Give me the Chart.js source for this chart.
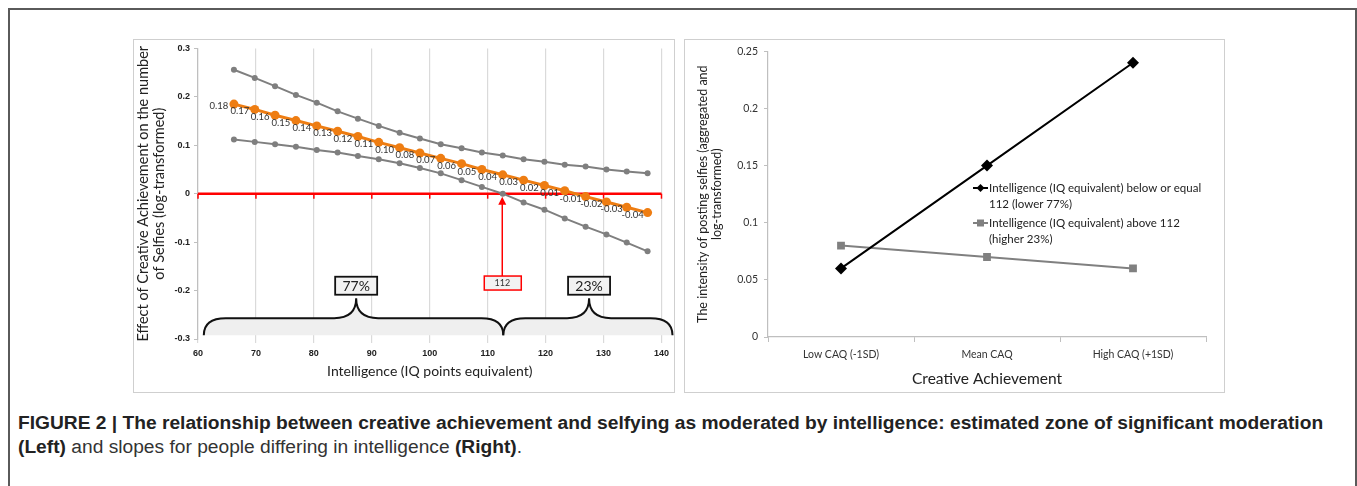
<!DOCTYPE html>
<html>
<head>
<meta charset="utf-8">
<script src="https://cdn.jsdelivr.net/npm/chart.js@4.4.1/dist/chart.umd.min.js"></script>
<style>
  html, body { margin: 0; padding: 0; background: #fff; }
  body { width: 1357px; height: 486px; position: relative; overflow: hidden; }
  #frame { position: absolute; left: 8px; top: 8px; width: 1345px; height: 500px; border: 2px solid #5a5a5a; border-bottom: none; }
  .panel { position: absolute; top: 39px; border: 1.5px solid #cfcfcf; box-sizing: border-box; }
  #leftPanel { left: 133px; width: 542px; height: 354px; }
  #rightPanel { left: 684px; width: 541px; height: 354px; }
  canvas { position: absolute; }
  #left { left: 133px; top: 39px; }
  #right { left: 684px; top: 39px; }
  .caption { position: absolute; left: 18px; font-family: "Liberation Sans", Arial, sans-serif; font-size: 19.2px; line-height: 22px; color: #222; white-space: nowrap; }
  #cap1 { top: 412px; font-weight: bold; }
  #cap2 { top: 436px; color: #333; }
  #cap2 b { color: #222; }
</style>
</head>
<body>
<div id="frame"></div>
<div class="panel" id="leftPanel"></div>
<div class="panel" id="rightPanel"></div>
<canvas id="left" width="541" height="353"></canvas>
<canvas id="right" width="540" height="353"></canvas>
<div class="caption" id="cap1">FIGURE 2 | The relationship between creative achievement and selfying as moderated by intelligence: estimated zone of significant moderation</div>
<div class="caption" id="cap2"><b>(Left)</b> and slopes for people differing in intelligence <b>(Right)</b>.</div>
<script>
// left panel: effect of creative achievement by IQ
const iq = [66.2, 69.8, 73.3, 76.9, 80.5, 84.1, 87.6, 91.2, 94.8, 98.3, 101.9, 105.5, 109.0, 112.6, 116.2, 119.8, 123.3, 126.9, 130.5, 134.0, 137.6];
const upperBand = [0.256, 0.239, 0.222, 0.204, 0.188, 0.170, 0.155, 0.140, 0.126, 0.114, 0.102, 0.094, 0.085, 0.079, 0.071, 0.066, 0.060, 0.056, 0.050, 0.046, 0.042];
const effect = [0.185, 0.174, 0.162, 0.151, 0.140, 0.129, 0.118, 0.106, 0.095, 0.084, 0.073, 0.062, 0.050, 0.039, 0.028, 0.017, 0.006, -0.006, -0.017, -0.028, -0.039];
const lowerBand = [0.112, 0.107, 0.102, 0.097, 0.090, 0.085, 0.078, 0.071, 0.063, 0.053, 0.042, 0.028, 0.014, 0.000, -0.018, -0.033, -0.051, -0.068, -0.084, -0.101, -0.119];
const effectLabels = ['0.18', '0.17', '0.16', '0.15', '0.14', '0.13', '0.12', '0.11', '0.10', '0.08', '0.07', '0.06', '0.05', '0.04', '0.03', '0.02', '0.01', '-0.01', '-0.02', '-0.03', '-0.04'];
const crossIQ = 112;
const zoneLabels = ['77%', '23%'];
const zoneBounds = [61, 112.7, 141.9];
const zonePeaks = [87.3, 127.5];

// right panel: slopes
const caqLevels = ['Low CAQ (-1SD)', 'Mean CAQ', 'High CAQ (+1SD)'];
const lowIQSlope = [0.06, 0.15, 0.24];
const highIQSlope = [0.08, 0.07, 0.06];

const fmt = v => String(Math.round(v * 100) / 100);
const sans = "Lato, 'Open Sans', sans-serif";

const zonePlugin = {
  id: 'zones',
  beforeDatasetsDraw(chart) {
    const { ctx, scales: { x, y } } = chart;
    // braces with grey fill
    const yb = y.getPixelForValue(-0.292), yh = y.getPixelForValue(-0.257), yt = y.getPixelForValue(-0.216);
    const r = 22;
    for (let i = 0; i < 2; i++) {
      const x0 = x.getPixelForValue(zoneBounds[i]), x1 = x.getPixelForValue(zoneBounds[i + 1]);
      const xc = x.getPixelForValue(zonePeaks[i]);
      const brace = () => {
        ctx.beginPath();
        ctx.moveTo(x0, yb);
        ctx.quadraticCurveTo(x0, yh, x0 + r, yh);
        ctx.lineTo(xc - r, yh);
        ctx.quadraticCurveTo(xc, yh, xc, yt);
        ctx.quadraticCurveTo(xc, yh, xc + r, yh);
        ctx.lineTo(x1 - r, yh);
        ctx.quadraticCurveTo(x1, yh, x1, yb);
      };
      ctx.save();
      brace();
      ctx.closePath();
      ctx.fillStyle = '#efefef';
      ctx.fill();
      brace();
      ctx.strokeStyle = '#111';
      ctx.lineWidth = 2;
      ctx.stroke();
      ctx.restore();
    }
    // red zero line with ticks
    const y0 = y.getPixelForValue(0);
    ctx.save();
    ctx.strokeStyle = '#ff0000';
    ctx.lineWidth = 2.5;
    ctx.beginPath();
    ctx.moveTo(x.left, y0);
    ctx.lineTo(x.right, y0);
    ctx.stroke();
    ctx.lineWidth = 1.5;
    x.ticks.forEach(t => {
      const px = x.getPixelForValue(t.value);
      ctx.beginPath();
      ctx.moveTo(px, y0);
      ctx.lineTo(px, y0 + 5);
      ctx.stroke();
    });
    ctx.restore();
  },
  afterDatasetsDraw(chart) {
    const { ctx, scales: { x, y } } = chart;
    const pts = chart.getDatasetMeta(2).data;
    ctx.save();
    ctx.font = "9.5px " + sans;
    ctx.fillStyle = '#333';
    ctx.textAlign = 'center';
    ctx.textBaseline = 'middle';
    pts.forEach((p, i) => ctx.fillText(effectLabels[i], p.x - 15, p.y + 2));

    // percentage boxes
    ctx.font = "14px " + sans;
    for (let i = 0; i < 2; i++) {
      const cx = x.getPixelForValue(zonePeaks[i]);
      const cy = y.getPixelForValue(-0.19);
      ctx.fillStyle = '#f2f2f2';
      ctx.fillRect(cx - 21, cy - 9, 42, 18);
      ctx.strokeStyle = '#111';
      ctx.lineWidth = 1.8;
      ctx.strokeRect(cx - 21, cy - 9, 42, 18);
      ctx.fillStyle = '#222';
      ctx.fillText(zoneLabels[i], cx, cy + 1);
    }

    // 112 marker with arrow
    const ax = x.getPixelForValue(crossIQ) + 3;
    const bt = y.getPixelForValue(-0.170);
    ctx.fillStyle = '#f2f2f2';
    ctx.fillRect(ax - 18, bt, 37, 14);
    ctx.strokeStyle = '#ff0000';
    ctx.lineWidth = 1.5;
    ctx.strokeRect(ax - 18, bt, 37, 14);
    ctx.fillStyle = '#333';
    ctx.font = "9px " + sans;
    ctx.fillText(String(crossIQ), ax, bt + 7.5);
    const tip = y.getPixelForValue(0) + 3;
    ctx.beginPath();
    ctx.moveTo(ax, bt);
    ctx.lineTo(ax, tip + 4);
    ctx.stroke();
    ctx.beginPath();
    ctx.moveTo(ax, tip);
    ctx.lineTo(ax - 4, tip + 8);
    ctx.lineTo(ax + 4, tip + 8);
    ctx.closePath();
    ctx.fillStyle = '#ff0000';
    ctx.fill();
    ctx.restore();
  }
};

const line = (data, color, width, radius) => ({
  data: iq.map((v, i) => ({ x: v, y: data[i] })),
  borderColor: color, backgroundColor: color,
  borderWidth: width, pointRadius: radius, pointBorderWidth: 0, tension: 0
});

new Chart('left', {
  type: 'line',
  plugins: [zonePlugin],
  data: {
    datasets: [
      line(upperBand, '#7f7f7f', 2, 3),
      line(lowerBand, '#7f7f7f', 2, 3),
      line(effect, '#ee7d12', 3, 4.5)
    ]
  },
  options: {
    responsive: false, animation: false, devicePixelRatio: 1,
    layout: { autoPadding: false, padding: { top: 8, right: 12, left: 0, bottom: 0 } },
    plugins: { legend: { display: false }, tooltip: { enabled: false } },
    scales: {
      x: {
        type: 'linear', min: 60, max: 140,
        afterFit: s => { s.height = 53; },
        ticks: { stepSize: 10, color: '#222', font: { family: "'Liberation Sans', Arial", size: 9, weight: 'bold' }, padding: 5 },
        grid: { color: '#dadada', lineWidth: 1.2, tickLength: 4 },
        border: { display: false },
        title: { display: true, text: 'Intelligence (IQ points equivalent)', color: '#222', font: { family: sans, size: 14 }, padding: { top: 2, bottom: 12 } }
      },
      y: {
        min: -0.3, max: 0.3,
        afterFit: s => { s.width = 65; },
        ticks: { stepSize: 0.1, color: '#222', callback: fmt, font: { family: "'Liberation Sans', Arial", size: 9, weight: 'bold' }, padding: 4 },
        grid: { drawOnChartArea: false, tickLength: 4, color: '#bfbfbf' },
        border: { color: '#bfbfbf', width: 1.2 },
        title: { display: true, text: ['Effect of Creative Achievement on the number', 'of Selfies (log-transformed)'], color: '#222', font: { family: sans, size: 14.5, lineHeight: 1.05 }, padding: { top: 3 } }
      }
    }
  }
});

const legendPlugin = {
  id: 'sideLegend',
  afterDraw(chart) {
    const { ctx } = chart;
    const entries = [
      { color: '#000', shape: 'diamond', lines: ['Intelligence (IQ equivalent) below or equal', '112 (lower 77%)'], y: 149 },
      { color: '#808080', shape: 'square', lines: ['Intelligence (IQ equivalent) above 112', '(higher 23%)'], y: 184 }
    ];
    ctx.save();
    ctx.font = "11.5px " + sans;
    ctx.textBaseline = 'middle';
    entries.forEach(e => {
      ctx.strokeStyle = e.color;
      ctx.fillStyle = e.color;
      ctx.lineWidth = 2;
      ctx.beginPath();
      ctx.moveTo(289, e.y);
      ctx.lineTo(304, e.y);
      ctx.stroke();
      ctx.beginPath();
      if (e.shape === 'diamond') {
        ctx.moveTo(296.5, e.y - 4); ctx.lineTo(300.5, e.y); ctx.lineTo(296.5, e.y + 4); ctx.lineTo(292.5, e.y);
      } else {
        ctx.rect(293, e.y - 3.5, 7, 7);
      }
      ctx.fill();
      ctx.fillStyle = '#222';
      e.lines.forEach((t, k) => ctx.fillText(t, 305, e.y + k * 16.5));
    });
    ctx.restore();
  }
};

new Chart('right', {
  type: 'line',
  plugins: [legendPlugin],
  data: {
    labels: caqLevels,
    datasets: [
      { data: lowIQSlope, borderColor: '#000', backgroundColor: '#000', borderWidth: 2, pointStyle: 'rectRot', pointRadius: 6, pointBorderWidth: 0, tension: 0 },
      { data: highIQSlope, borderColor: '#808080', backgroundColor: '#808080', borderWidth: 2, pointStyle: 'rect', pointRadius: 5.5, pointBorderWidth: 0, tension: 0 }
    ]
  },
  options: {
    responsive: false, animation: false, devicePixelRatio: 1,
    layout: { autoPadding: false, padding: { top: 7, right: 18, left: 0, bottom: 0 } },
    plugins: { legend: { display: false }, tooltip: { enabled: false } },
    scales: {
      x: {
        offset: true,
        afterFit: s => { s.height = 55; },
        ticks: { color: '#333', font: { family: sans, size: 10.5 }, padding: 6, maxRotation: 0 },
        grid: { drawOnChartArea: false, tickLength: 5, color: '#bfbfbf', offset: true },
        border: { color: '#bfbfbf', width: 1.2 },
        title: { display: true, text: 'Creative Achievement', color: '#222', font: { family: sans, size: 15.5 }, padding: { top: 6 } }
      },
      y: {
        min: 0, max: 0.25,
        afterFit: s => { s.width = 84; },
        ticks: { stepSize: 0.05, color: '#333', callback: fmt, font: { family: sans, size: 10.5 }, padding: 6 },
        grid: { drawOnChartArea: false, tickLength: 4, color: '#bfbfbf' },
        border: { color: '#bfbfbf', width: 1.2 },
        title: { display: true, text: ['The intensity of posting selfies (aggregated and', 'log-transformed)'], color: '#222', font: { family: sans, size: 12.5, lineHeight: 1.1 }, padding: { top: 12 } }
      }
    }
  }
});
</script>
</body>
</html>
